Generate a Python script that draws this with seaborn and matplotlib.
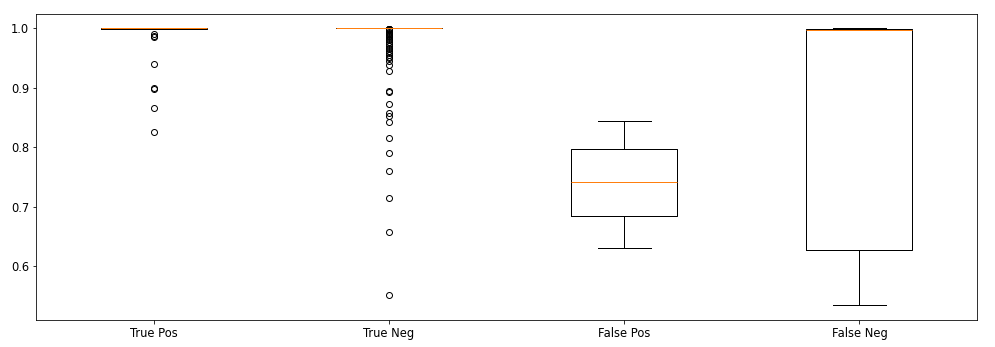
import numpy as np
import pandas as pd
import matplotlib
matplotlib.use("Agg")
import matplotlib.pyplot as plt
import seaborn as sns

categories = ["True Pos", "True Neg", "False Pos", "False Neg"]

# True Pos: outliers + bulk of scores near 1.0 (values and their counts)
tp_outliers = [0.826, 0.865, 0.897, 0.900, 0.940, 0.984, 0.987, 0.990]
tp_core_values = [0.998, 0.9983, 0.9985, 0.999, 1.0]
tp_core_counts = [2, 3, 6, 6, 27]

# True Neg: many outliers + bulk at 1.0
tn_outliers = [0.552, 0.658, 0.715, 0.760, 0.790, 0.815, 0.842, 0.853, 0.857,
               0.872, 0.893, 0.895, 0.928, 0.937, 0.945, 0.949, 0.952, 0.955,
               0.958, 0.961, 0.964, 0.967, 0.970, 0.973, 0.976, 0.979, 0.982,
               0.984, 0.986, 0.988, 0.990, 0.992, 0.994, 0.996, 0.998]
tn_core_values = [0.9990, 0.9993, 0.9996, 1.0]
tn_core_counts = [4, 10, 30, 150]

# False Pos / False Neg raw scores
fp_scores = [0.630, 0.660, 0.6846, 0.712, 0.7417, 0.770, 0.7966, 0.820, 0.8437]
fn_scores = [0.5345, 0.580, 0.627, 0.900, 0.997, 0.998, 0.998, 0.999, 1.0]

tp_scores = list(tp_outliers) + list(np.repeat(tp_core_values, tp_core_counts))
tn_scores = list(tn_outliers) + list(np.repeat(tn_core_values, tn_core_counts))

all_scores = [tp_scores, tn_scores, fp_scores, fn_scores]
df = pd.DataFrame({
    "category": np.concatenate([[c] * len(s) for c, s in zip(categories, all_scores)]),
    "score": np.concatenate(all_scores),
})

DPI = 72
plt.rcParams["font.size"] = 11.5
fig = plt.figure(figsize=(995 / DPI, 347 / DPI), dpi=DPI)
ax = fig.add_axes([36 / 995, 1 - 320 / 347, (977 - 36) / 995, (320 - 14) / 347])

sns.boxplot(
    data=df, x="category", y="score", order=categories, ax=ax,
    fill=False, color="black", width=0.45, whis=1.5, linewidth=1,
    fliersize=6,
    medianprops=dict(color="#ff7f0e", linewidth=1, zorder=3),
    flierprops=dict(marker="o", markerfacecolor="none",
                    markeredgecolor="black", markeredgewidth=1),
    boxprops=dict(color="black"),
    whiskerprops=dict(color="black"),
    capprops=dict(color="black"),
)

ax.set_xlabel("")
ax.set_ylabel("")
ax.set_yticks([0.6, 0.7, 0.8, 0.9, 1.0])
ax.set_ylim(0.5098, 1.0234)
ax.set_xlim(-0.5, 3.5)
ax.tick_params(labelsize=11.5)
for s in ax.spines.values():
    s.set_visible(True)
    s.set_color("black")

fig.savefig("out.png", dpi=DPI)
